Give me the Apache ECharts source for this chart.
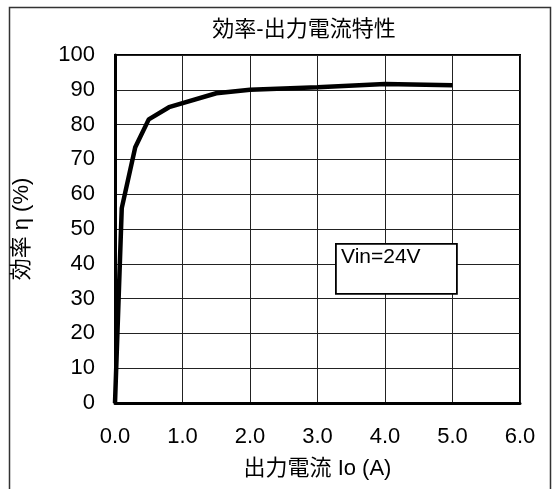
<!DOCTYPE html>
<html>
<head>
<meta charset="utf-8">
<script src="https://cdn.jsdelivr.net/npm/echarts@6/dist/echarts.min.js"></script>
<style>
html,body{margin:0;padding:0;background:#fff;}
#c{width:552px;height:489px;}
</style>
</head>
<body>
<div id="c"></div>
<script>
const titleText = '効率-出力電流特性';
const xName = '出力電流 Io (A)';
const yName = '効率 η (%)';
const noteText = 'Vin=24V';
const currentA = [0, 0.1, 0.3, 0.5, 0.8, 1.5, 2.0, 3.0, 4.0, 5.0];
const efficiency = [0, 56, 73.5, 81.5, 85, 89, 90, 90.7, 91.7, 91.3];

const font = '"Liberation Sans", Arial, sans-serif';
const cjkFont = '"Liberation Sans", "Noto Sans CJK JP", sans-serif';

const chart = echarts.init(document.getElementById('c'));
chart.setOption({
  animation: false,
  backgroundColor: '#fff',
  title: {
    text: titleText,
    left: 299,
    top: 14,
    textAlign: 'center',
    textStyle: {fontFamily: cjkFont, fontSize: 22, fontWeight: 'normal', color: '#000'}
  },
  grid: {
    left: 115, top: 55, right: 32, bottom: 86,
    show: true, borderColor: '#000', borderWidth: 2, backgroundColor: 'transparent'
  },
  xAxis: {
    type: 'value', min: 0, max: 6, interval: 1,
    name: xName, nameLocation: 'middle', nameGap: 55,
    nameTextStyle: {fontFamily: cjkFont, fontSize: 22, color: '#000'},
    axisLine: {show: true, onZero: false, lineStyle: {color: '#000', width: 3}},
    axisTick: {show: false},
    axisLabel: {margin: 23, fontFamily: font, fontSize: 22, color: '#000', formatter: v => v.toFixed(1)},
    splitLine: {show: true, lineStyle: {color: '#222', width: 1}}
  },
  yAxis: {
    type: 'value', min: 0, max: 100, interval: 10,
    name: yName, nameLocation: 'middle', nameGap: 82, nameRotate: 90,
    nameTextStyle: {fontFamily: cjkFont, fontSize: 22, color: '#000'},
    axisLine: {show: true, lineStyle: {color: '#000', width: 3}},
    axisTick: {show: false},
    axisLabel: {margin: 20, fontFamily: font, fontSize: 22, color: '#000'},
    splitLine: {show: true, lineStyle: {color: '#222', width: 1}}
  },
  series: [{
    type: 'line',
    data: currentA.map((x, i) => [x, efficiency[i]]),
    showSymbol: false,
    smooth: false,
    lineStyle: {color: '#000', width: 4.5},
    itemStyle: {color: '#000'}
  }],
  graphic: [
    {
      type: 'rect', left: 7, top: 5, silent: true,
      shape: {width: 541, height: 500},
      style: {fill: 'none', stroke: '#333', lineWidth: 1.5}
    },
    {
      type: 'rect', left: 335, top: 243, z: 10,
      shape: {width: 121, height: 50},
      style: {fill: '#fff', stroke: '#000', lineWidth: 1.8}
    },
    {
      type: 'text', left: 341, top: 247, z: 11,
      style: {text: noteText, fill: '#000', font: '21px "Liberation Sans", Arial, sans-serif'}
    }
  ]
});
</script>
</body>
</html>
